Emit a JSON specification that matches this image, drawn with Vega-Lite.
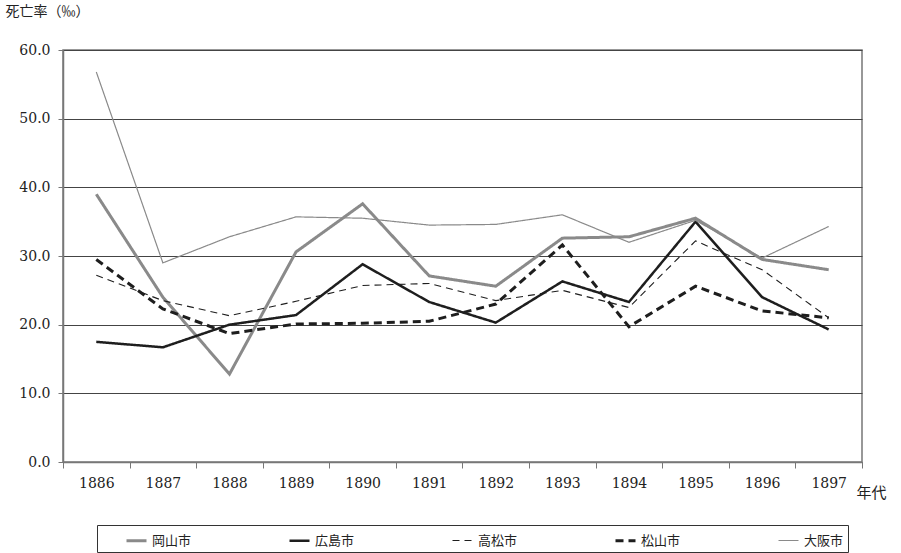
{
  "$schema": "https://vega.github.io/schema/vega-lite/v6.json",
  "width": 799, "height": 412,
  "autosize": "none",
  "padding": {"left": 63, "top": 50, "right": 39, "bottom": 91},
  "background": "white",
  "title": {"text": "図３－６　瀬戸内４市と大阪市の死亡率", "font": "Noto Sans CJK JP", "fontSize": 17, "fontWeight": "normal", "color": "#222", "anchor": "middle", "offset": 40, "dx": -20},
  "data": {"values": [
    {"year": "1886", "city": "岡山市", "v": 39.0}, {"year": "1887", "city": "岡山市", "v": 24.0}, {"year": "1888", "city": "岡山市", "v": 12.8}, {"year": "1889", "city": "岡山市", "v": 30.6}, {"year": "1890", "city": "岡山市", "v": 37.6}, {"year": "1891", "city": "岡山市", "v": 27.1}, {"year": "1892", "city": "岡山市", "v": 25.6}, {"year": "1893", "city": "岡山市", "v": 32.6}, {"year": "1894", "city": "岡山市", "v": 32.8}, {"year": "1895", "city": "岡山市", "v": 35.5}, {"year": "1896", "city": "岡山市", "v": 29.5}, {"year": "1897", "city": "岡山市", "v": 28.0},
    {"year": "1886", "city": "広島市", "v": 17.5}, {"year": "1887", "city": "広島市", "v": 16.7}, {"year": "1888", "city": "広島市", "v": 20.0}, {"year": "1889", "city": "広島市", "v": 21.4}, {"year": "1890", "city": "広島市", "v": 28.8}, {"year": "1891", "city": "広島市", "v": 23.3}, {"year": "1892", "city": "広島市", "v": 20.3}, {"year": "1893", "city": "広島市", "v": 26.3}, {"year": "1894", "city": "広島市", "v": 23.3}, {"year": "1895", "city": "広島市", "v": 35.0}, {"year": "1896", "city": "広島市", "v": 24.0}, {"year": "1897", "city": "広島市", "v": 19.3},
    {"year": "1886", "city": "高松市", "v": 27.2}, {"year": "1887", "city": "高松市", "v": 23.5}, {"year": "1888", "city": "高松市", "v": 21.3}, {"year": "1889", "city": "高松市", "v": 23.4}, {"year": "1890", "city": "高松市", "v": 25.7}, {"year": "1891", "city": "高松市", "v": 26.0}, {"year": "1892", "city": "高松市", "v": 23.5}, {"year": "1893", "city": "高松市", "v": 25.0}, {"year": "1894", "city": "高松市", "v": 22.5}, {"year": "1895", "city": "高松市", "v": 32.2}, {"year": "1896", "city": "高松市", "v": 28.0}, {"year": "1897", "city": "高松市", "v": 21.0},
    {"year": "1886", "city": "松山市", "v": 29.5}, {"year": "1887", "city": "松山市", "v": 22.3}, {"year": "1888", "city": "松山市", "v": 18.7}, {"year": "1889", "city": "松山市", "v": 20.1}, {"year": "1890", "city": "松山市", "v": 20.2}, {"year": "1891", "city": "松山市", "v": 20.5}, {"year": "1892", "city": "松山市", "v": 23.0}, {"year": "1893", "city": "松山市", "v": 31.6}, {"year": "1894", "city": "松山市", "v": 19.7}, {"year": "1895", "city": "松山市", "v": 25.6}, {"year": "1896", "city": "松山市", "v": 22.0}, {"year": "1897", "city": "松山市", "v": 21.0},
    {"year": "1886", "city": "大阪市", "v": 56.8}, {"year": "1887", "city": "大阪市", "v": 29.0}, {"year": "1888", "city": "大阪市", "v": 32.8}, {"year": "1889", "city": "大阪市", "v": 35.7}, {"year": "1890", "city": "大阪市", "v": 35.5}, {"year": "1891", "city": "大阪市", "v": 34.5}, {"year": "1892", "city": "大阪市", "v": 34.6}, {"year": "1893", "city": "大阪市", "v": 36.0}, {"year": "1894", "city": "大阪市", "v": 32.0}, {"year": "1895", "city": "大阪市", "v": 35.2}, {"year": "1896", "city": "大阪市", "v": 29.7}, {"year": "1897", "city": "大阪市", "v": 34.3}
  ]},
  "mark": {"type": "line", "strokeCap": "butt", "strokeJoin": "miter"},
  "encoding": {
    "x": {"field": "year", "type": "ordinal", "bandPosition": 0.5, "scale": {"type": "band", "paddingInner": 0, "paddingOuter": 0},
      "axis": {"title": "年代", "titleFont": "Noto Sans CJK JP", "titleFontWeight": "normal", "titleFontSize": 15, "titleColor": "#222", "titleAngle": 0, "titleX": 808, "titleY": 23, "titleAlign": "center",
        "labelAngle": 0, "labelFont": "DejaVu Serif", "labelFontSize": 14, "labelColor": "#222", "labelPadding": 8, "domainColor": "#777", "domainWidth": 1.5, "tickColor": "#777", "tickSize": 6, "tickBand": "extent"}},
    "y": {"field": "v", "type": "quantitative", "scale": {"domain": [0, 60]},
      "axis": {"title": "死亡率（‰）", "titleFont": "Noto Sans CJK JP", "titleFontWeight": "normal", "titleFontSize": 14, "titleColor": "#222", "titleAngle": 0, "titleX": -58, "titleY": -32, "titleAlign": "left",
        "values": [0, 10, 20, 30, 40, 50, 60], "format": ".1f", "labelFont": "DejaVu Serif", "labelFontSize": 14, "labelColor": "#222", "labelPadding": 8,
        "grid": true, "gridColor": "#444", "gridWidth": 1, "domainColor": "#777", "domainWidth": 1.5, "tickColor": "#777", "tickSize": 5}},
    "color": {"field": "city", "type": "nominal", "sort": ["岡山市", "広島市", "高松市", "松山市", "大阪市"],
      "scale": {"domain": ["岡山市", "広島市", "高松市", "松山市", "大阪市"], "range": ["#8a8a8a", "#1e1e1e", "#1e1e1e", "#1e1e1e", "#8a8a8a"]},
      "legend": {"title": null, "orient": "none", "legendX": 34, "legendY": 475, "direction": "horizontal", "columns": 5, "columnPadding": 72,
        "symbolType": "stroke", "symbolSize": 400, "labelFont": "Noto Sans CJK JP", "labelFontSize": 13, "labelColor": "#222",
        "strokeColor": "#333", "padding": 4, "offset": 0, "symbolOffset": 24}},
    "strokeDash": {"field": "city", "type": "nominal",
      "scale": {"domain": ["岡山市", "広島市", "高松市", "松山市", "大阪市"], "range": [[1, 0], [1, 0], [7, 5], [8, 5], [1, 0]]}},
    "strokeWidth": {"field": "city", "type": "ordinal",
      "scale": {"type": "ordinal", "domain": ["岡山市", "広島市", "高松市", "松山市", "大阪市"], "range": [3, 2.5, 1.1, 3, 1.2]}}
  },
  "config": {"view": {"stroke": "#777", "strokeWidth": 1.5}}
}
